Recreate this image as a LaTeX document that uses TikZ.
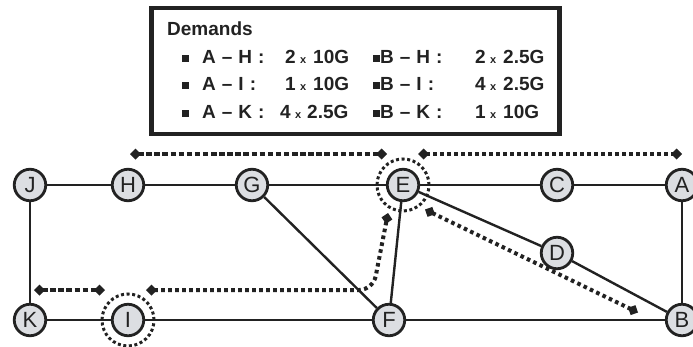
\documentclass[tikz,border=0pt]{standalone}
\usepackage{fontspec}
\setmainfont{Liberation Sans}
\usetikzlibrary{arrows.meta}
\definecolor{ink}{HTML}{222222}
\definecolor{nodefill}{HTML}{DCDEE2}
\newcommand{\lsp}{\hspace{6pt}}
\begin{document}
\begin{tikzpicture}[x=1pt,y=-1pt,
  netnode/.style={circle,draw=ink,line width=2.8pt,fill=nodefill,minimum size=31.5pt,inner sep=0pt,text=ink,font=\fontsize{22}{22}\selectfont},
  link/.style={draw=ink,line width=2.4pt},
  ringmark/.style={circle,draw=ink,line width=3pt,dash pattern=on 3pt off 2.6pt,minimum size=52pt,inner sep=0pt},
  demand/.style={draw=ink,line width=4pt,{Diamond[length=11pt,width=11pt]}-{Diamond[length=11pt,width=11pt]}},
  dashy/.style={demand,dash pattern=on 5.5pt off 2.6pt},
  dotty/.style={demand,dash pattern=on 3.6pt off 3.4pt},
  legbox/.style={draw=ink,line width=4.5pt,minimum width=408pt,minimum height=126pt,inner sep=0pt},
  legtxt/.style={anchor=base west,inner sep=0pt,text=ink,font=\bfseries\fontsize{19}{19}\selectfont},
  legnum/.style={anchor=base east,inner sep=0pt,text=ink,font=\bfseries\fontsize{19}{19}\selectfont},
  legx/.style={anchor=base west,inner sep=0pt,text=ink,font=\bfseries\fontsize{11}{11}\selectfont},
  bullet/.style={fill=ink,minimum size=7pt,inner sep=0pt}
]
\useasboundingbox (0,0) rectangle (693,346);

% legend
\node[legbox] (leg) at (355.5,71) {};
\node[legtxt] (dem) at (167,35) {Demands};
\foreach \n/\b in {1/58,2/85,3/113}{
  \node[bullet] (bl\n) at (185,\b) {};
  \node[bullet] (br\n) at (376,\b) {};
}
\node[legtxt] (l1) at (202,63) {A\lsp–\lsp H\lsp:};
\node[legnum] (l1n) at (296,63) {2};
\node[legx] (l1x) at (300,63) {x};
\node[legtxt] (l1v) at (313,63) {10G};
\node[legtxt] (l2) at (202,90) {A\lsp–\lsp I\lsp:};
\node[legnum] (l2n) at (296,90) {1};
\node[legx] (l2x) at (300,90) {x};
\node[legtxt] (l2v) at (313,90) {10G};
\node[legtxt] (l3) at (202,118) {A\lsp–\lsp K\lsp:};
\node[legnum] (l3n) at (291,118) {4};
\node[legx] (l3x) at (295,118) {x};
\node[legtxt] (l3v) at (307,118) {2.5G};
\node[legtxt] (r1) at (380,63) {B\lsp–\lsp H\lsp:};
\node[legnum] (r1n) at (486,63) {2};
\node[legx] (r1x) at (490,63) {x};
\node[legtxt] (r1v) at (503,63) {2.5G};
\node[legtxt] (r2) at (380,90) {B\lsp–\lsp I\lsp:};
\node[legnum] (r2n) at (486,90) {4};
\node[legx] (r2x) at (490,90) {x};
\node[legtxt] (r2v) at (503,90) {2.5G};
\node[legtxt] (r3) at (380,118) {B\lsp–\lsp K\lsp:};
\node[legnum] (r3n) at (486,118) {1};
\node[legx] (r3x) at (490,118) {x};
\node[legtxt] (r3v) at (503,118) {10G};

% network nodes
\node[netnode] (J) at (30,185) {J};
\node[netnode] (H) at (128,185) {H};
\node[netnode] (G) at (252,185) {G};
\node[netnode] (E) at (403,185) {E};
\node[netnode] (C) at (557,185) {C};
\node[netnode] (A) at (682,185) {A};
\node[netnode] (D) at (557,253) {D};
\node[netnode] (K) at (30,320) {K};
\node[netnode] (I) at (128,320) {I};
\node[netnode] (F) at (389,320) {F};
\node[netnode] (B) at (682,320) {B};

% links
\draw[link] (J) -- (H);
\draw[link] (H) -- (G);
\draw[link] (G) -- (E);
\draw[link] (E) -- (C);
\draw[link] (C) -- (A);
\draw[link] (A) -- (B);
\draw[link] (J) -- (K);
\draw[link] (K) -- (I);
\draw[link] (I) -- (F);
\draw[link] (F) -- (B);
\draw[link] (G) -- (F);
\draw[link] (E) -- (F);
\draw[link] (E) -- (D);
\draw[link] (D) -- (B);

% dotted rings
\node[ringmark] (ringE) at (E) {};
\node[ringmark] (ringI) at (I) {};

% demand paths
\coordinate (hL) at (130,154);
\coordinate (hR) at (387,154);
\coordinate (aL) at (418,154);
\coordinate (aR) at (682,154);
\coordinate (kL) at (34,290);
\coordinate (kR) at (105,290);
\coordinate (iL) at (146,290);
\coordinate (iBend) at (373,290);
\coordinate (iR) at (388,213);
\coordinate (eB1) at (425,209.5);
\coordinate (eB2) at (638,312.5);
\draw[dashy] (hL) -- (hR);
\draw[dotty] (aL) -- (aR);
\draw[dashy] (kL) -- (kR);
\draw[dotty,rounded corners=14pt] (iL) -- (iBend) -- (iR);
\draw[dotty] (eB1) -- (eB2);
\end{tikzpicture}
\end{document}
